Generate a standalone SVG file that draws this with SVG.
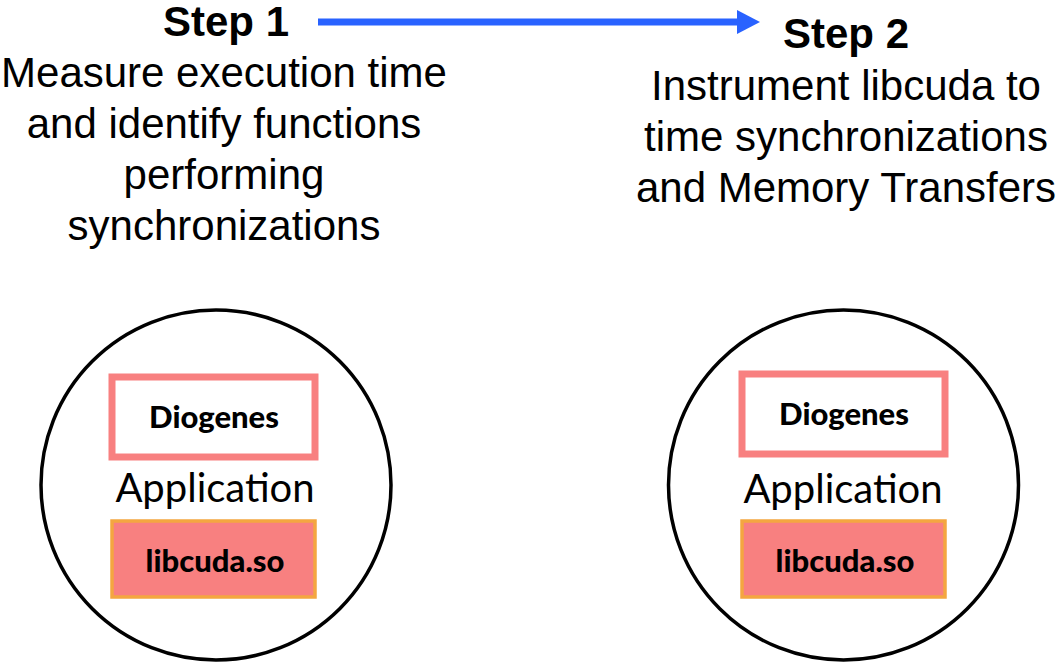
<svg xmlns="http://www.w3.org/2000/svg" width="1059" height="664" viewBox="0 0 1059 664">
  <style>
    .step { font-family: "Liberation Sans", Arial, sans-serif; font-weight: bold; font-size: 42px; fill: #000; text-anchor: middle; }
    .desc { font-family: "Liberation Sans", Arial, sans-serif; font-size: 42px; fill: #000; text-anchor: middle; }
    .ring { fill: #fff; stroke: #000; stroke-width: 3.5; }
    .tool { fill: #fff; stroke: #F88080; stroke-width: 7; }
    .lib { fill: #F88080; stroke: #F4A640; stroke-width: 3.5; }
    .box-label { font-family: Lato, "Open Sans", sans-serif; font-weight: 900; font-size: 31px; fill: #000; text-anchor: middle; }
    .app-label { font-family: Lato, "Open Sans", sans-serif; font-size: 40px; fill: #000; text-anchor: middle; }
  </style>
  <defs>
    <marker id="arrowhead" markerWidth="24" markerHeight="24" refX="0" refY="12" orient="auto" markerUnits="userSpaceOnUse">
      <polygon points="0,0 23,12 0,24" fill="#2962FF"/>
    </marker>
  </defs>
  <rect width="1059" height="664" fill="#fff"/>

  <g id="connectors">
    <line x1="318" y1="22" x2="737" y2="22" stroke="#2962FF" stroke-width="7" marker-end="url(#arrowhead)"/>
  </g>

  <g id="step1-caption">
    <text class="step" x="226" y="36">Step 1</text>
    <text class="desc" x="224" y="87">Measure execution time</text>
    <text class="desc" x="224" y="138">and identify functions</text>
    <text class="desc" x="224" y="189">performing</text>
    <text class="desc" x="224" y="240">synchronizations</text>
  </g>

  <g id="step2-caption">
    <text class="step" x="846" y="48">Step 2</text>
    <text class="desc" x="846" y="100">Instrument libcuda to</text>
    <text class="desc" x="846" y="151">time synchronizations</text>
    <text class="desc" x="846" y="202">and Memory Transfers</text>
  </g>

  <g id="app1">
    <circle class="ring" cx="216" cy="485" r="175"/>
    <rect class="tool" x="112" y="377" width="203" height="80"/>
    <text class="box-label" x="214" y="428">Diogenes</text>
    <text class="app-label" x="215" y="502">Application</text>
    <rect class="lib" x="112" y="521" width="203" height="76"/>
    <text class="box-label" x="215" y="572">libcuda.so</text>
  </g>

  <g id="app2">
    <circle class="ring" cx="843.5" cy="485" r="175"/>
    <rect class="tool" x="742" y="374" width="203" height="80"/>
    <text class="box-label" x="844" y="425">Diogenes</text>
    <text class="app-label" x="843" y="503">Application</text>
    <rect class="lib" x="742" y="521" width="203" height="76"/>
    <text class="box-label" x="845" y="572">libcuda.so</text>
  </g>
</svg>
